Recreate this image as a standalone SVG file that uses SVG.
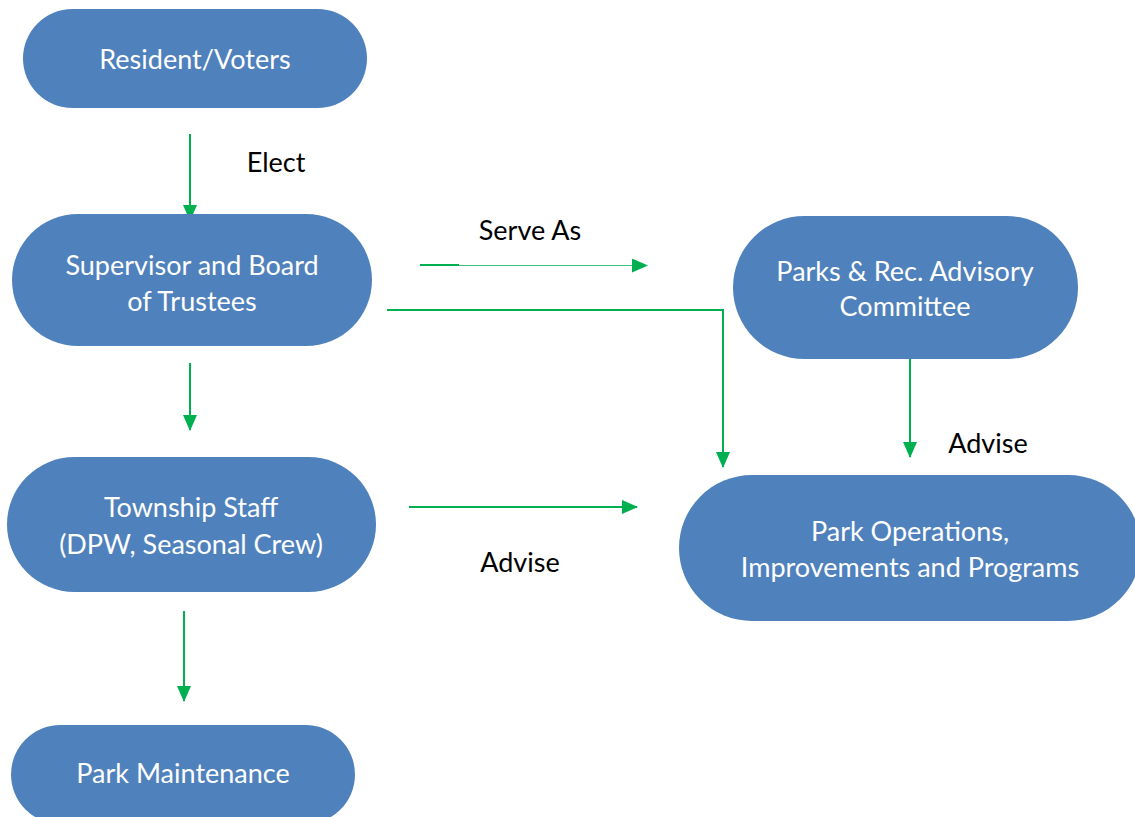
<svg xmlns="http://www.w3.org/2000/svg" width="1135" height="817" viewBox="0 0 1135 817">
<style>
.node{fill:#4F81BD;}
.nt{fill:#ffffff;font-family:Lato,"Open Sans",sans-serif;font-size:27px;text-anchor:middle;}
.lbl{fill:#000000;font-family:Lato,"Open Sans",sans-serif;font-size:27px;text-anchor:middle;}
.edge{stroke:#00B050;stroke-width:2;fill:none;}
</style>
<defs>
<marker id="ah" markerWidth="16" markerHeight="14" refX="15" refY="7" orient="auto" markerUnits="userSpaceOnUse">
<path d="M0,0 L16,7 L0,14 Z" fill="#00B050"/>
</marker>
</defs>
<rect width="1135" height="817" fill="#ffffff"/>
<g id="connectors">
<line class="edge" x1="190" y1="134" x2="190" y2="220" marker-end="url(#ah)"/>
<line class="edge" x1="190" y1="363" x2="190" y2="430" marker-end="url(#ah)"/>
<line class="edge" x1="184" y1="611" x2="184" y2="701" marker-end="url(#ah)"/>
<line class="edge" x1="420" y1="265" x2="459" y2="265"/>
<line class="edge" style="stroke-width:1.2;stroke:#3CC47A" x1="459" y1="265.5" x2="647" y2="265.5" marker-end="url(#ah)"/>
<polyline class="edge" points="387,310 723,310 723,467" marker-end="url(#ah)"/>
<line class="edge" x1="910" y1="347" x2="910" y2="457" marker-end="url(#ah)"/>
<line class="edge" x1="409" y1="507" x2="637" y2="507" marker-end="url(#ah)"/>
</g>
<g id="label-elect"><text class="lbl" x="276" y="172">Elect</text></g>
<g id="label-serve"><text class="lbl" x="530" y="240">Serve As</text></g>
<g id="label-advise1"><text class="lbl" x="988" y="453">Advise</text></g>
<g id="label-advise2"><text class="lbl" x="520" y="572">Advise</text></g>
<g id="node-residents">
<rect class="node" x="23" y="9" width="344" height="99" rx="49.5"/>
<text class="nt" x="195" y="69">Resident/Voters</text>
</g>
<g id="node-supervisor">
<rect class="node" x="12" y="214" width="360" height="132" rx="66"/>
<text class="nt" x="192" y="275">Supervisor and Board</text>
<text class="nt" x="192" y="311">of Trustees</text>
</g>
<g id="node-staff">
<rect class="node" x="7" y="457" width="369" height="135" rx="67.5"/>
<text class="nt" x="191" y="517">Township Staff</text>
<text class="nt" x="191" y="554">(DPW, Seasonal Crew)</text>
</g>
<g id="node-maintenance">
<rect class="node" x="11" y="725" width="344" height="99" rx="49.5"/>
<text class="nt" x="183" y="783">Park Maintenance</text>
</g>
<g id="node-advisory">
<rect class="node" x="733" y="216" width="345" height="143" rx="71.5"/>
<text class="nt" x="905" y="281">Parks &amp; Rec. Advisory</text>
<text class="nt" x="905" y="316">Committee</text>
</g>
<g id="node-operations">
<rect class="node" x="679" y="475" width="462" height="146" rx="73"/>
<text class="nt" x="910" y="541">Park Operations,</text>
<text class="nt" x="910" y="577">Improvements and Programs</text>
</g>
</svg>
